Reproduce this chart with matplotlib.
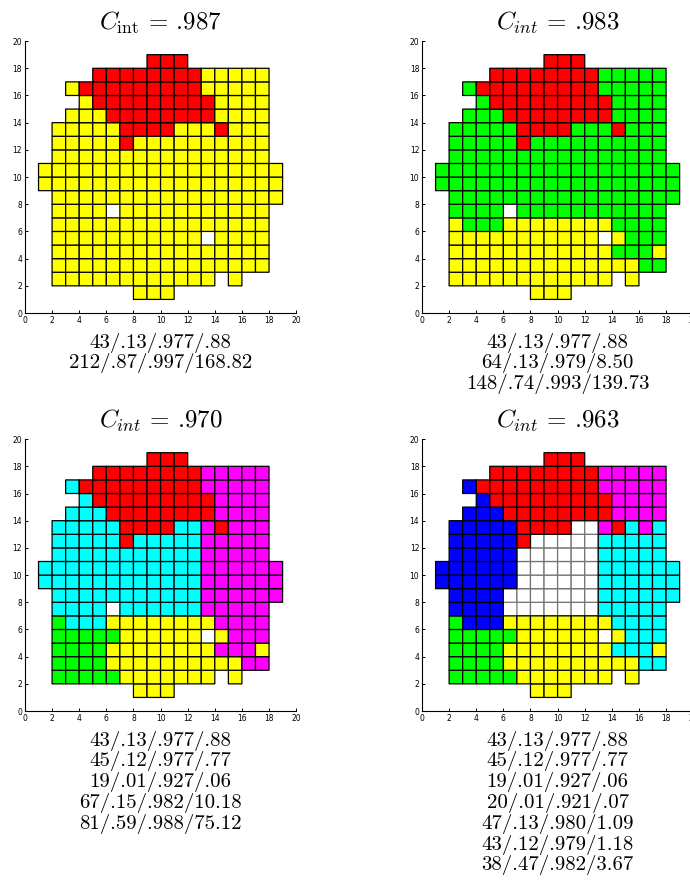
import numpy as np
import matplotlib
matplotlib.use('Agg')
import matplotlib.pyplot as plt
from matplotlib.colors import ListedColormap

plt.rcParams['mathtext.fontset'] = 'cm'

# cell codes: . empty, Y yellow, R red, G green, C cyan, M magenta, B blue, W white cluster
codes = 'YRGCMBW'
colors = ['#ffff00', '#ff0000', '#00ff00', '#00ffff', '#ff00ff', '#0000ff', '#ffffff']

# rows listed from y=18 (top) down to y=1, columns x=0..19
grid1 = [
    ".........RRR........",
    ".....RRRRRRRRYYYYY..",
    "...YRRRRRRRRRYYYYY..",
    "....YRRRRRRRRRYYYY..",
    "...YYYRRRRRRRRYYYY..",
    "..YYYYYRRRRYYYRYYY..",
    "..YYYYYRYYYYYYYYYY..",
    "..YYYYYYYYYYYYYYYY..",
    ".YYYYYYYYYYYYYYYYYY.",
    ".YYYYYYYYYYYYYYYYYY.",
    "..YYYYYYYYYYYYYYYYY.",
    "..YYYY.YYYYYYYYYYY..",
    "..YYYYYYYYYYYYYYYY..",
    "..YYYYYYYYYYY.YYYY..",
    "..YYYYYYYYYYYYYYYY..",
    "..YYYYYYYYYYYYYYYY..",
    "..YYYYYYYYYYYY.Y....",
    "........YYY.........",
]
grid2 = [
    ".........RRR........",
    ".....RRRRRRRRGGGGG..",
    "...GRRRRRRRRRGGGGG..",
    "....GRRRRRRRRRGGGG..",
    "...GGGRRRRRRRRGGGG..",
    "..GGGGGRRRRGGGRGGG..",
    "..GGGGGRGGGGGGGGGG..",
    "..GGGGGGGGGGGGGGGG..",
    ".GGGGGGGGGGGGGGGGGG.",
    ".GGGGGGGGGGGGGGGGGG.",
    "..GGGGGGGGGGGGGGGGG.",
    "..GGGG.GGGGGGGGGGG..",
    "..YGGGYYYYYYYYGGGG..",
    "..YYYYYYYYYYY.YGGG..",
    "..YYYYYYYYYYYYGGGY..",
    "..YYYYYYYYYYYYYYGG..",
    "..YYYYYYYYYYYY.Y....",
    "........YYY.........",
]
grid3 = [
    ".........RRR........",
    ".....RRRRRRRRMMMMM..",
    "...CRRRRRRRRRMMMMM..",
    "....CRRRRRRRRRMMMM..",
    "...CCCRRRRRRRRMMMM..",
    "..CCCCCRRRRCCMRMMM..",
    "..CCCCCRCCCCCMMMMM..",
    "..CCCCCCCCCCCMMMMM..",
    ".CCCCCCCCCCCCMMMMMM.",
    ".CCCCCCCCCCCCMMMMMM.",
    "..CCCCCCCCCCCMMMMMM.",
    "..CCCC.CCCCCCMMMMM..",
    "..GCCCYYYYYYYYMMMM..",
    "..GGGGGYYYYYY.YMMM..",
    "..GGGGYYYYYYYYMMMY..",
    "..GGGGYYYYYYYYYYMM..",
    "..GGGGGYYYYYYY.Y....",
    "........YYY.........",
]
grid4 = [
    ".........RRR........",
    ".....RRRRRRRRMMMMM..",
    "...BRRRRRRRRRMMMMM..",
    "....BRRRRRRRRRMMMM..",
    "...BBBRRRRRRRRMMMM..",
    "..BBBBBRRRRWWMRCMC..",
    "..BBBBBRWWWWWCCCCC..",
    "..BBBBBWWWWWWCCCCC..",
    ".BBBBBBWWWWWWCCCCCC.",
    ".BBBBBBWWWWWWCCCCCC.",
    "..BBBBWWWWWWWCCCCCC.",
    "..BBBB.WWWWWWCCCCC..",
    "..GBBBYYYYYYYYCCCC..",
    "..GGGGGYYYYYY.YCCC..",
    "..GGGGYYYYYYYYCCCY..",
    "..GGGGYYYYYYYYYYCC..",
    "..GGGGGYYYYYYY.Y....",
    "........YYY.........",
]

titles = [r'$C_{\rm int}$ = .987', r'$C_{int}$ = .983',
          r'$C_{int}$ = .970', r'$C_{int}$ = .963']

captions1 = ["43/.13/.977/.88", "212/.87/.997/168.82"]
captions2 = ["43/.13/.977/.88", "64/.13/.979/8.50", "148/.74/.993/139.73"]
captions3 = ["43/.13/.977/.88", "45/.12/.977/.77", "19/.01/.927/.06",
             "67/.15/.982/10.18", "81/.59/.988/75.12"]
captions4 = ["43/.13/.977/.88", "45/.12/.977/.77", "19/.01/.927/.06",
             "20/.01/.921/.07", "47/.13/.980/1.09", "43/.12/.979/1.18",
             "38/.47/.982/3.67"]


def to_array(grid):
    A = np.full((20, 20), np.nan)
    for i, row in enumerate(grid):
        y = 18 - i
        for x, ch in enumerate(row):
            if ch != '.':
                A[y, x] = codes.index(ch)
    return A


def draw(ax, grid, title, caption):
    A = to_array(grid)
    edges = np.arange(21)
    cmap = ListedColormap(colors)
    w = codes.index('W')
    white = np.ma.masked_where(~(A == w), A)
    rest = np.ma.masked_where(np.isnan(A) | (A == w), A)
    ax.pcolor(edges, edges, white, cmap=cmap, vmin=-0.5, vmax=len(codes) - 0.5,
              edgecolors='0.45', linewidth=0.9)
    ax.pcolor(edges, edges, rest, cmap=cmap, vmin=-0.5, vmax=len(codes) - 0.5,
              edgecolors='k', linewidth=0.9)
    ax.set_xlim(0, 20)
    ax.set_ylim(0, 20)
    ax.set_xticks(np.arange(0, 21, 2))
    ax.set_yticks(np.arange(0, 21, 2))
    ax.tick_params(direction='in', length=2.5, width=0.7, labelsize=5.5, pad=2)
    for s in ['top', 'right']:
        ax.spines[s].set_visible(False)
    for s in ['left', 'bottom']:
        ax.spines[s].set_linewidth(0.8)
    ax.text(0.5, 1.04, title, transform=ax.transAxes, ha='center',
            va='baseline', fontsize=18, family='cmr10')
    for k, line in enumerate(caption):
        ax.text(0.5, -0.127 - k * 0.0765, line, transform=ax.transAxes,
                ha='center', va='baseline', fontsize=15, family='cmr10')


fig = plt.figure(figsize=(6.9, 8.8), dpi=100)
ax1 = fig.add_axes([0.0362, 0.6443, 0.393, 0.309])
ax2 = fig.add_axes([0.6116, 0.6443, 0.393, 0.309])
ax3 = fig.add_axes([0.0362, 0.192, 0.393, 0.309])
ax4 = fig.add_axes([0.6116, 0.192, 0.393, 0.309])

draw(ax1, grid1, titles[0], captions1)
draw(ax2, grid2, titles[1], captions2)
draw(ax3, grid3, titles[2], captions3)
draw(ax4, grid4, titles[3], captions4)

fig.savefig('out.png', dpi=100)
